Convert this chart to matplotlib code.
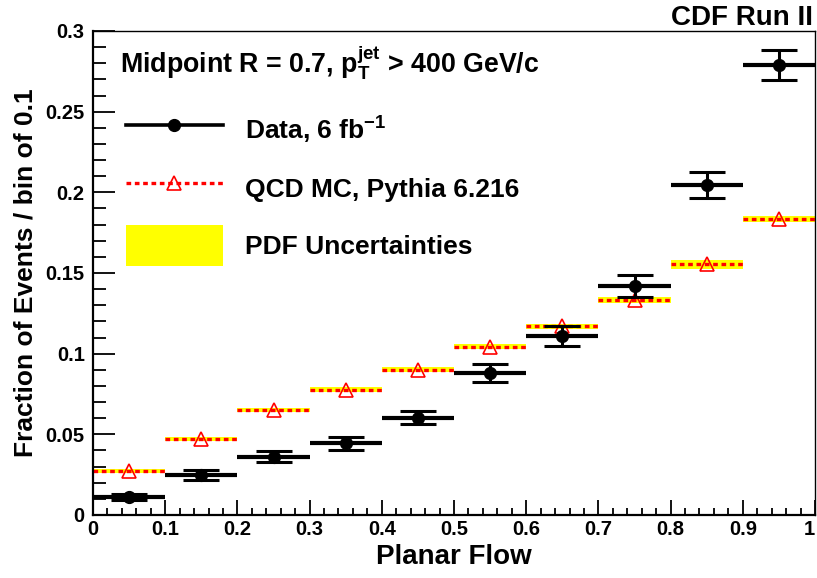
import matplotlib
matplotlib.use("Agg")
import matplotlib.pyplot as plt
import numpy as np
from matplotlib.lines import Line2D
from matplotlib.patches import Patch
from matplotlib.ticker import MultipleLocator

plt.rcParams['font.family'] = ['Liberation Sans', 'DejaVu Sans']
plt.rcParams['font.weight'] = 'bold'
plt.rcParams['mathtext.fontset'] = 'custom'
plt.rcParams['mathtext.rm'] = 'Liberation Sans:bold'
plt.rcParams['mathtext.bf'] = 'Liberation Sans:bold'
plt.rcParams['mathtext.it'] = 'Liberation Sans:bold'
plt.rcParams['mathtext.default'] = 'bf'

# Data
bin_centers = [0.05, 0.15, 0.25, 0.35, 0.45, 0.55, 0.65, 0.75, 0.85, 0.95]
bin_halfwidth = 0.05
data_vals = [0.011, 0.0248, 0.036, 0.0444, 0.0603, 0.088, 0.111, 0.142, 0.2045, 0.279]
data_errs = [0.0018, 0.003, 0.0034, 0.004, 0.0042, 0.0053, 0.006, 0.0066, 0.0078, 0.0094]
mc_vals = [0.0275, 0.0469, 0.065, 0.0777, 0.0901, 0.1044, 0.117, 0.1333, 0.1554, 0.1835]
pdf_unc = [0.0013, 0.0013, 0.0013, 0.0014, 0.0014, 0.0016, 0.0016, 0.0016, 0.0028, 0.0021]
x_ticklabels = ['0', '0.1', '0.2', '0.3', '0.4', '0.5', '0.6', '0.7', '0.8', '0.9', '1']
y_ticklabels = ['0', '0.05', '0.1', '0.15', '0.2', '0.25', '0.3']

x = np.array(bin_centers)
d = np.array(data_vals)
de = np.array(data_errs)
mc = np.array(mc_vals)
pu = np.array(pdf_unc)

fig = plt.figure(figsize=(8.17, 5.78), dpi=100)
ax = fig.add_axes([93/817, 1-515/578, (815-93)/817, (515-31)/578])

mc_dash = (0, (1.4, 1.1))

# PDF uncertainty band
ax.bar(x, 2*pu, width=2*bin_halfwidth, bottom=mc-pu, color='#ffff00', edgecolor='none', zorder=1)
# MC line
ax.hlines(mc, x-bin_halfwidth, x+bin_halfwidth, colors='#ff0000', linestyles=[mc_dash], linewidth=2.4, zorder=2)
ax.plot(x, mc, linestyle='none', marker='^', markersize=10, markerfacecolor='none',
        markeredgecolor='#ff0000', markeredgewidth=1.2, zorder=3)

# Data
ax.errorbar(x, d, xerr=bin_halfwidth, fmt='none', ecolor='black', elinewidth=3.0, capsize=0, zorder=4)
ax.errorbar(x, d, yerr=de, fmt='none', ecolor='black', elinewidth=2.2, capsize=13, capthick=2.2, zorder=4)
ax.plot(x, d, linestyle='none', marker='o', markersize=8.5, color='black', zorder=5)

ax.set_xlim(0, 1)
ax.set_ylim(0, 0.3)
ax.xaxis.set_minor_locator(MultipleLocator(0.02))
ax.yaxis.set_minor_locator(MultipleLocator(0.01))
ax.tick_params(which='both', direction='in', top=False, right=False, width=1.3, labelsize=14.5)
ax.tick_params(axis='x', which='major', length=10.5, pad=3.5)
ax.tick_params(axis='x', which='minor', length=5)
ax.tick_params(axis='y', which='major', length=16, pad=6)
ax.tick_params(axis='y', which='minor', length=9.5)
ax.set_xticks(np.arange(0, 1.01, 0.1))
ax.set_xticklabels(x_ticklabels)
ax.get_xticklabels()[-1].set_horizontalalignment('right')
ax.set_yticks(np.arange(0, 0.301, 0.05))
ax.set_yticklabels(y_ticklabels)
for s in ax.spines.values():
    s.set_linewidth(1.0)
ax.spines['left'].set_linewidth(1.6)
ax.spines['bottom'].set_linewidth(1.6)

ax.set_xlabel('Planar Flow', fontsize=20, fontweight='bold', labelpad=4)
ax.set_ylabel('Fraction of Events / bin of 0.1', fontsize=19, fontweight='bold', labelpad=6)

fig.text(813/817, 1-25/578, 'CDF Run II', ha='right', va='baseline', fontsize=20, fontweight='bold')
fig.text(120/817, 1-73/578, r'Midpoint R = 0.7, $\mathbf{p_{T}^{jet}}$ > 400 GeV/c',
         ha='left', va='baseline', fontsize=19.3, fontweight='bold')

handles = [
    Line2D([], [], color='black', linewidth=2.6, marker='o', markersize=8.5),
    Line2D([], [], color='#ff0000', linewidth=2.4, linestyle=mc_dash, marker='^',
           markersize=10, markerfacecolor='none', markeredgecolor='#ff0000', markeredgewidth=1.2),
    Patch(facecolor='#ffff00', edgecolor='none'),
]
labels = [r'Data, 6 fb$^{-1}$', 'QCD MC, Pythia 6.216', 'PDF Uncertainties']
leg = ax.legend(handles, labels, loc='upper left', bbox_to_anchor=(126/817, 1-111/578),
                bbox_transform=fig.transFigure, frameon=False, fontsize=19,
                handlelength=3.67, handleheight=2.0, labelspacing=0.62, handletextpad=0.83,
                borderpad=0.0, borderaxespad=0.0)

fig.savefig('out.png', dpi=100)
